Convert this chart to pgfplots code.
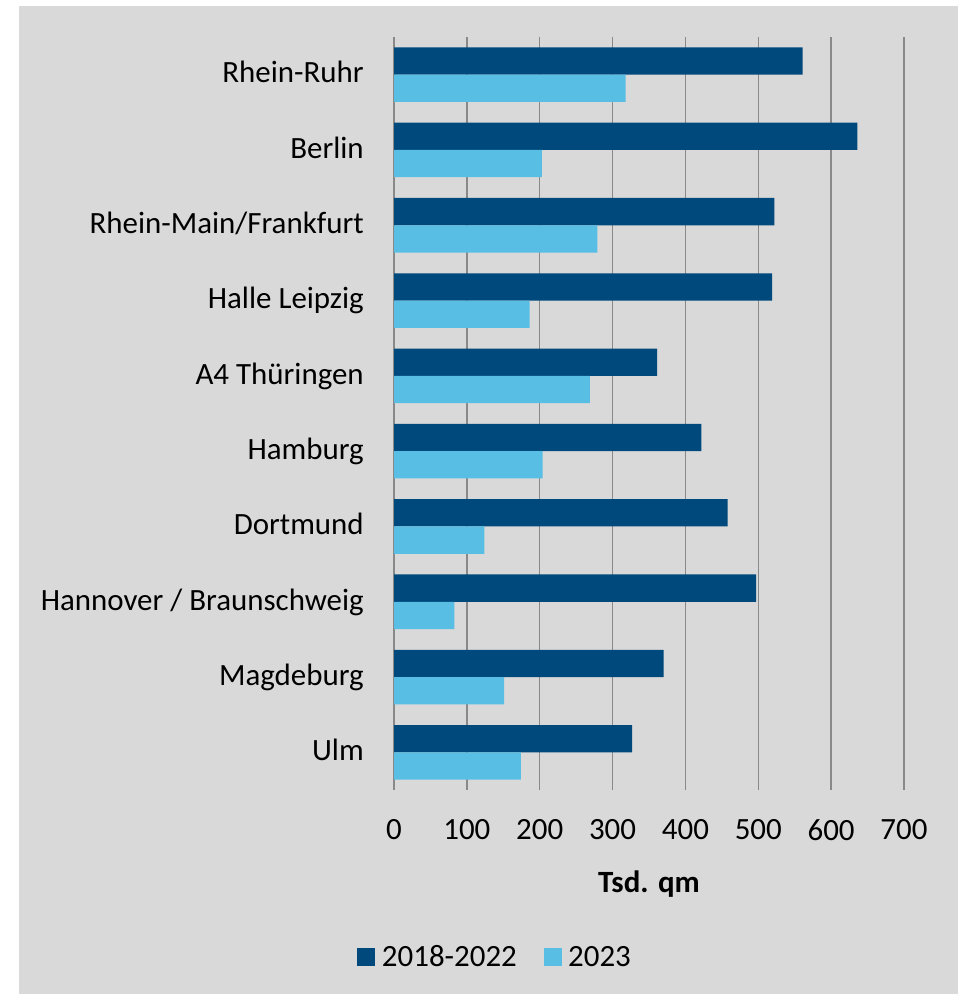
\documentclass[border=0pt]{standalone}
\usepackage{fontspec}
\setmainfont{Carlito}
\usepackage{pgfplots}
\pgfplotsset{compat=1.18}
\definecolor{darkblue}{RGB}{0,73,124}
\definecolor{lightblue}{RGB}{89,190,228}
\definecolor{bggray}{RGB}{217,217,217}
\definecolor{gridgray}{RGB}{137,137,137}
\newcommand{\chartfont}{\fontsize{23.2}{28}\selectfont}
\begin{document}
\begin{tikzpicture}
\fill[white] (0pt,0pt) rectangle (718.5pt,745.5pt);
\fill[bggray] (14.25pt,0pt) rectangle (718.5pt,741pt);
\begin{axis}[
  at={(295.5pt,153pt)}, anchor=south west,
  scale only axis, width=382.5pt, height=564.75pt,
  xbar, bar width=0.3625,
  xmin=0, xmax=700, ymin=-0.5, ymax=9.5,
  y dir=reverse,
  axis line style={draw=none},
  major tick length=0pt,
  xtick={100,200,...,700},
  extra x ticks={0}, extra x tick labels={0},
  extra x tick style={grid style={black, line width=1.1pt}},
  xmajorgrids,
  major grid style={gridgray, line width=1pt},
  ytick={0,...,9},
  yticklabels={Rhein-Ruhr, Berlin, Rhein-Main/Frankfurt, Halle Leipzig, A4 Thüringen, Hamburg, Dortmund, Hannover / Braunschweig, Magdeburg, Ulm},
  /pgf/number format/assume math mode=true,
  tick label style={font=\chartfont},
  yticklabel style={inner sep=0pt, anchor=east, xshift=-22.5pt, yshift=-3pt, text height=0.64em, text depth=0pt},
  xticklabel style={inner sep=0pt, anchor=north, yshift=-22pt},
  xlabel={\textbf{Tsd. qm}},
  xlabel style={font=\chartfont, at={(axis description cs:0.5,0)}, anchor=north, inner sep=0pt, yshift=-60.5pt},
  legend columns=2,
  legend style={at={(axis description cs:-0.0725,-0.2218)}, anchor=west, draw=none, fill=none, inner sep=0pt, font=\chartfont,
    nodes={inner sep=5pt},
    /tikz/every even column/.append style={column sep=15pt}},
]
\addplot[draw=none, fill=darkblue, bar shift=-0.18125,
  legend image code/.code={\fill[darkblue] (0pt,-6.75pt) rectangle (13.5pt,6.75pt);}]
  coordinates {(561,0) (636,1) (522,2) (519,3) (361,4) (422,5) (458,6) (497,7) (370,8) (327,9)};
\addlegendentry{2018-2022}
\addplot[draw=none, fill=lightblue, bar shift=0.18125,
  legend image code/.code={\fill[lightblue] (0pt,-6.75pt) rectangle (13.5pt,6.75pt);}]
  coordinates {(318,0) (203,1) (279,2) (186,3) (269,4) (204,5) (124,6) (83,7) (151,8) (174,9)};
\addlegendentry{2023}
\end{axis}
\pgfresetboundingbox
\path (0pt,0pt) rectangle (718.5pt,745.5pt);
\end{tikzpicture}
\end{document}
